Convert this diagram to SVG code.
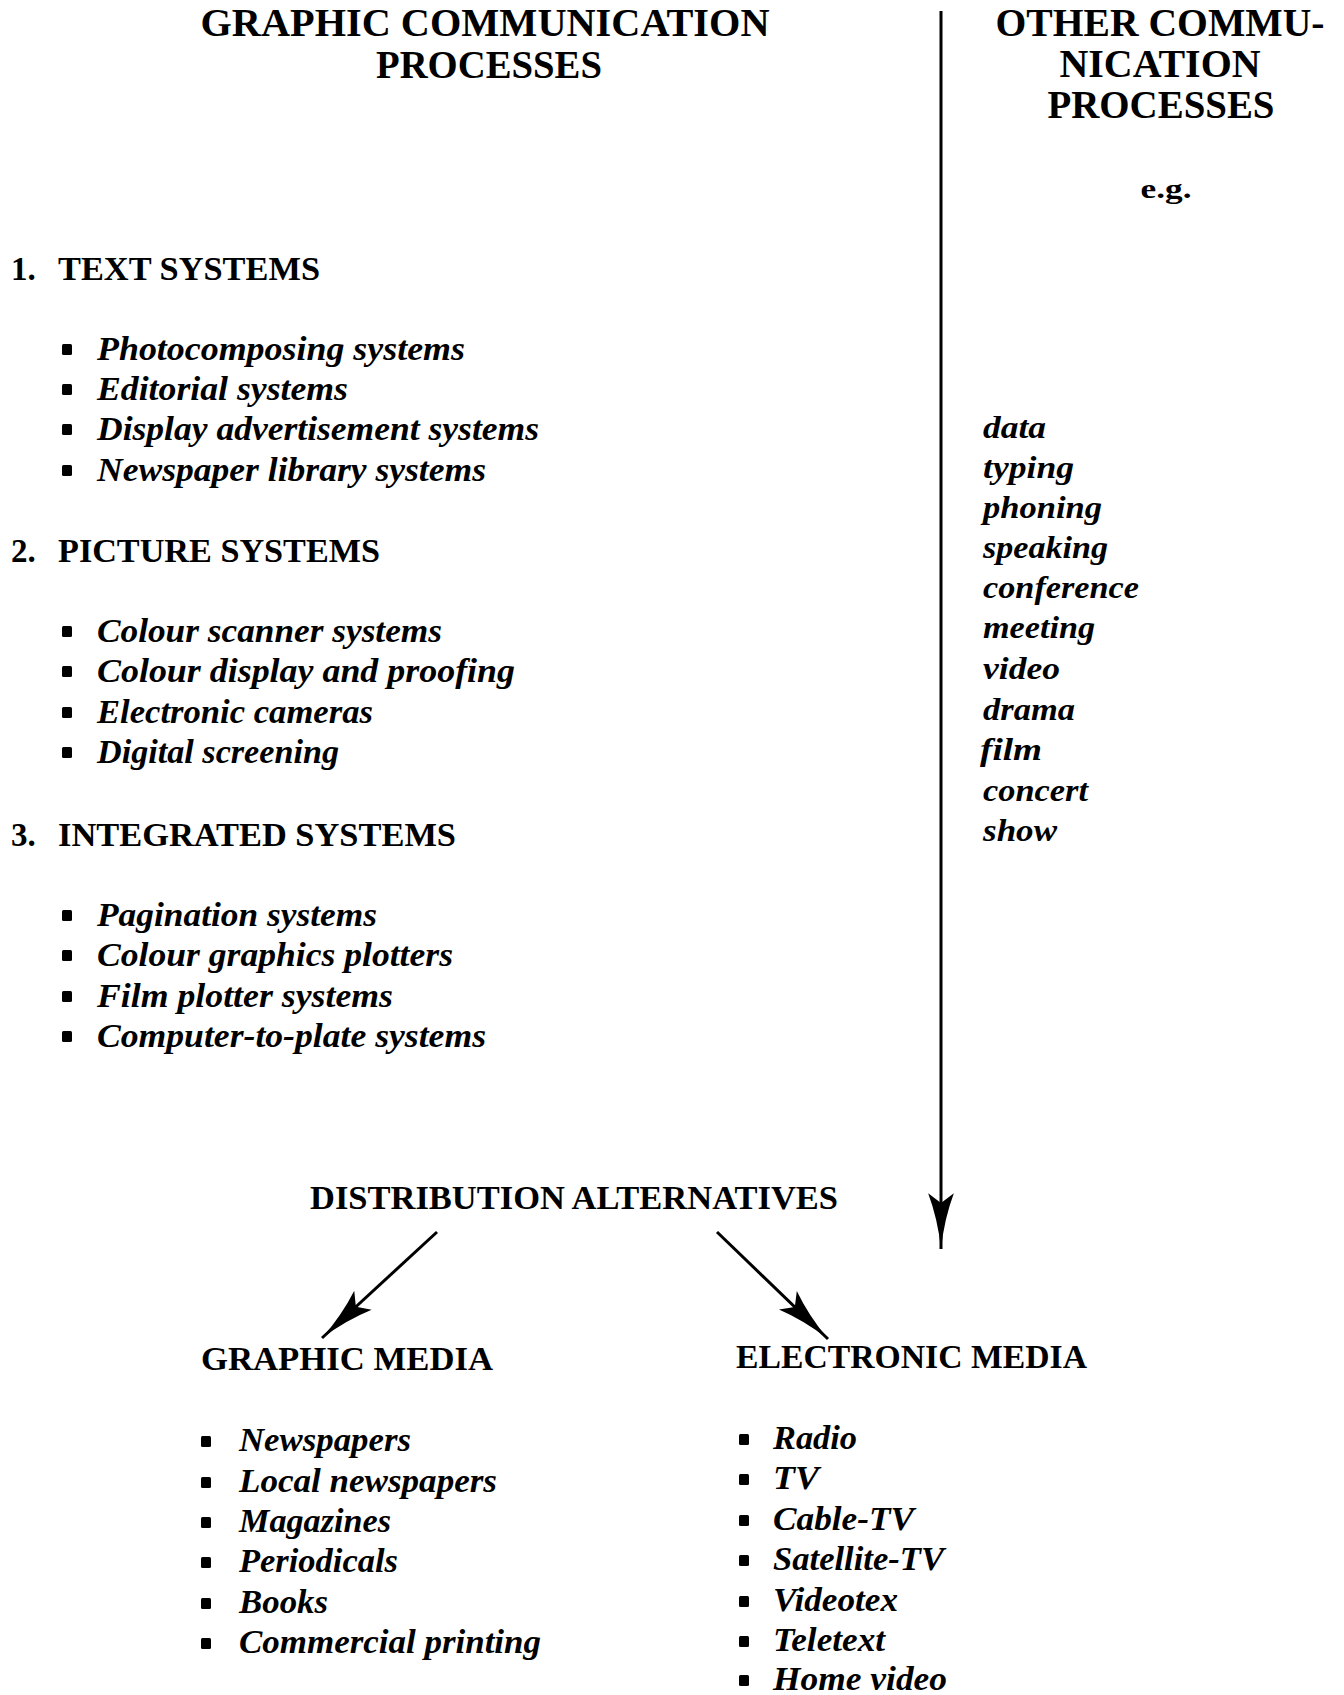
<svg xmlns="http://www.w3.org/2000/svg" width="1344" height="1695" viewBox="0 0 1344 1695">
<defs>
<style>
text{font-family:"Liberation Serif","Times New Roman",serif;fill:#000}
.t{font-size:41px;font-weight:bold}
.h{font-size:33px;font-weight:bold}
.i{font-size:33px;font-weight:bold;font-style:italic}
.r{font-size:31px;font-weight:bold;font-style:italic}
.eg{font-size:28px;font-weight:bold}
.b{fill:#000}
.c{stroke:#000;stroke-width:3;fill:none}
</style>
<marker id="ah" markerUnits="userSpaceOnUse" markerWidth="60" markerHeight="30" viewBox="-54 -14 56 28" refX="0" refY="0" orient="auto">
<path d="M0,0 Q-28,-3 -52,-12 L-43,0 L-52,12 Q-28,3 0,0 Z" fill="#000"/>
</marker>
</defs>
<rect width="1344" height="1695" fill="#fff"/>

<g id="title-graphic">
<text class="t" x="485" y="36" text-anchor="middle" textLength="569" lengthAdjust="spacingAndGlyphs">GRAPHIC COMMUNICATION</text>
<text class="t" x="489" y="78" text-anchor="middle" textLength="226" lengthAdjust="spacingAndGlyphs">PROCESSES</text>
</g>

<g id="title-other">
<text class="t" x="1160" y="36" text-anchor="middle" textLength="329" lengthAdjust="spacingAndGlyphs">OTHER COMMU-</text>
<text class="t" x="1160" y="77" text-anchor="middle" textLength="201" lengthAdjust="spacingAndGlyphs">NICATION</text>
<text class="t" x="1161" y="118" text-anchor="middle" textLength="227" lengthAdjust="spacingAndGlyphs">PROCESSES</text>
<text class="eg" x="1166" y="198" text-anchor="middle" textLength="51" lengthAdjust="spacingAndGlyphs">e.g.</text>
</g>

<g id="text-systems">
<text class="h" x="11" y="280">1.</text>
<text class="h" x="58" y="280" textLength="262" lengthAdjust="spacingAndGlyphs">TEXT SYSTEMS</text>
<rect class="b" x="62" y="344" width="10" height="11" rx="1.5"/>
<text class="i" x="97" y="360" textLength="368" lengthAdjust="spacingAndGlyphs">Photocomposing systems</text>
<rect class="b" x="62" y="384" width="10" height="11" rx="1.5"/>
<text class="i" x="97" y="400" textLength="251" lengthAdjust="spacingAndGlyphs">Editorial systems</text>
<rect class="b" x="62" y="424" width="10" height="11" rx="1.5"/>
<text class="i" x="97" y="440" textLength="442" lengthAdjust="spacingAndGlyphs">Display advertisement systems</text>
<rect class="b" x="62" y="465" width="10" height="11" rx="1.5"/>
<text class="i" x="97" y="481" textLength="389" lengthAdjust="spacingAndGlyphs">Newspaper library systems</text>
</g>

<g id="picture-systems">
<text class="h" x="11" y="562">2.</text>
<text class="h" x="58" y="562" textLength="322" lengthAdjust="spacingAndGlyphs">PICTURE SYSTEMS</text>
<rect class="b" x="62" y="626" width="10" height="11" rx="1.5"/>
<text class="i" x="97" y="642" textLength="345" lengthAdjust="spacingAndGlyphs">Colour scanner systems</text>
<rect class="b" x="62" y="666" width="10" height="11" rx="1.5"/>
<text class="i" x="97" y="682" textLength="418" lengthAdjust="spacingAndGlyphs">Colour display and proofing</text>
<rect class="b" x="62" y="707" width="10" height="11" rx="1.5"/>
<text class="i" x="97" y="723" textLength="276" lengthAdjust="spacingAndGlyphs">Electronic cameras</text>
<rect class="b" x="62" y="747" width="10" height="11" rx="1.5"/>
<text class="i" x="97" y="763" textLength="242" lengthAdjust="spacingAndGlyphs">Digital screening</text>
</g>

<g id="integrated-systems">
<text class="h" x="11" y="846">3.</text>
<text class="h" x="58" y="846" textLength="398" lengthAdjust="spacingAndGlyphs">INTEGRATED SYSTEMS</text>
<rect class="b" x="62" y="910" width="10" height="11" rx="1.5"/>
<text class="i" x="97" y="926" textLength="280" lengthAdjust="spacingAndGlyphs">Pagination systems</text>
<rect class="b" x="62" y="950" width="10" height="11" rx="1.5"/>
<text class="i" x="97" y="966" textLength="356" lengthAdjust="spacingAndGlyphs">Colour graphics plotters</text>
<rect class="b" x="62" y="991" width="10" height="11" rx="1.5"/>
<text class="i" x="97" y="1007" textLength="296" lengthAdjust="spacingAndGlyphs">Film plotter systems</text>
<rect class="b" x="62" y="1031" width="10" height="11" rx="1.5"/>
<text class="i" x="97" y="1047" textLength="389" lengthAdjust="spacingAndGlyphs">Computer-to-plate systems</text>
</g>

<g id="other-examples">
<text class="r" x="983" y="438" textLength="63" lengthAdjust="spacingAndGlyphs">data</text>
<text class="r" x="983" y="478" textLength="91" lengthAdjust="spacingAndGlyphs">typing</text>
<text class="r" x="983" y="518" textLength="119" lengthAdjust="spacingAndGlyphs">phoning</text>
<text class="r" x="983" y="558" textLength="125" lengthAdjust="spacingAndGlyphs">speaking</text>
<text class="r" x="983" y="598" textLength="156" lengthAdjust="spacingAndGlyphs">conference</text>
<text class="r" x="983" y="638" textLength="112" lengthAdjust="spacingAndGlyphs">meeting</text>
<text class="r" x="983" y="679" textLength="77" lengthAdjust="spacingAndGlyphs">video</text>
<text class="r" x="983" y="720" textLength="92" lengthAdjust="spacingAndGlyphs">drama</text>
<text class="r" x="980" y="760" textLength="62" lengthAdjust="spacingAndGlyphs">film</text>
<text class="r" x="983" y="801" textLength="105" lengthAdjust="spacingAndGlyphs">concert</text>
<text class="r" x="983" y="841" textLength="74" lengthAdjust="spacingAndGlyphs">show</text>
</g>

<g id="distribution">
<text class="h" x="310" y="1209" textLength="528" lengthAdjust="spacingAndGlyphs">DISTRIBUTION ALTERNATIVES</text>
</g>

<g id="graphic-media">
<text class="h" x="201" y="1370" textLength="292" lengthAdjust="spacingAndGlyphs">GRAPHIC MEDIA</text>
<rect class="b" x="201" y="1436" width="10" height="11" rx="1.5"/>
<text class="i" x="239" y="1451" textLength="172" lengthAdjust="spacingAndGlyphs">Newspapers</text>
<rect class="b" x="201" y="1477" width="10" height="11" rx="1.5"/>
<text class="i" x="239" y="1492" textLength="258" lengthAdjust="spacingAndGlyphs">Local newspapers</text>
<rect class="b" x="201" y="1517" width="10" height="11" rx="1.5"/>
<text class="i" x="239" y="1532" textLength="152" lengthAdjust="spacingAndGlyphs">Magazines</text>
<rect class="b" x="201" y="1557" width="10" height="11" rx="1.5"/>
<text class="i" x="239" y="1572" textLength="159" lengthAdjust="spacingAndGlyphs">Periodicals</text>
<rect class="b" x="201" y="1598" width="10" height="11" rx="1.5"/>
<text class="i" x="239" y="1613" textLength="89" lengthAdjust="spacingAndGlyphs">Books</text>
<rect class="b" x="201" y="1638" width="10" height="11" rx="1.5"/>
<text class="i" x="239" y="1653" textLength="302" lengthAdjust="spacingAndGlyphs">Commercial printing</text>
</g>

<g id="electronic-media">
<text class="h" x="736" y="1368" textLength="351" lengthAdjust="spacingAndGlyphs">ELECTRONIC MEDIA</text>
<rect class="b" x="739" y="1434" width="10" height="11" rx="1.5"/>
<text class="i" x="773" y="1449" textLength="84" lengthAdjust="spacingAndGlyphs">Radio</text>
<rect class="b" x="739" y="1474" width="10" height="11" rx="1.5"/>
<text class="i" x="773" y="1489" textLength="46" lengthAdjust="spacingAndGlyphs">TV</text>
<rect class="b" x="739" y="1515" width="10" height="11" rx="1.5"/>
<text class="i" x="773" y="1530" textLength="141" lengthAdjust="spacingAndGlyphs">Cable-TV</text>
<rect class="b" x="739" y="1555" width="10" height="11" rx="1.5"/>
<text class="i" x="773" y="1570" textLength="171" lengthAdjust="spacingAndGlyphs">Satellite-TV</text>
<rect class="b" x="739" y="1596" width="10" height="11" rx="1.5"/>
<text class="i" x="773" y="1611" textLength="125" lengthAdjust="spacingAndGlyphs">Videotex</text>
<rect class="b" x="739" y="1636" width="10" height="11" rx="1.5"/>
<text class="i" x="773" y="1651" textLength="112" lengthAdjust="spacingAndGlyphs">Teletext</text>
<rect class="b" x="739" y="1675" width="10" height="11" rx="1.5"/>
<text class="i" x="773" y="1690" textLength="174" lengthAdjust="spacingAndGlyphs">Home video</text>
</g>

<g id="connectors">
<line class="c" x1="941" y1="11" x2="941" y2="1249" marker-end="url(#ah)"/>
<line class="c" x1="437" y1="1232" x2="322" y2="1338" marker-end="url(#ah)"/>
<line class="c" x1="717" y1="1232" x2="828" y2="1339" marker-end="url(#ah)"/>
</g>
</svg>
